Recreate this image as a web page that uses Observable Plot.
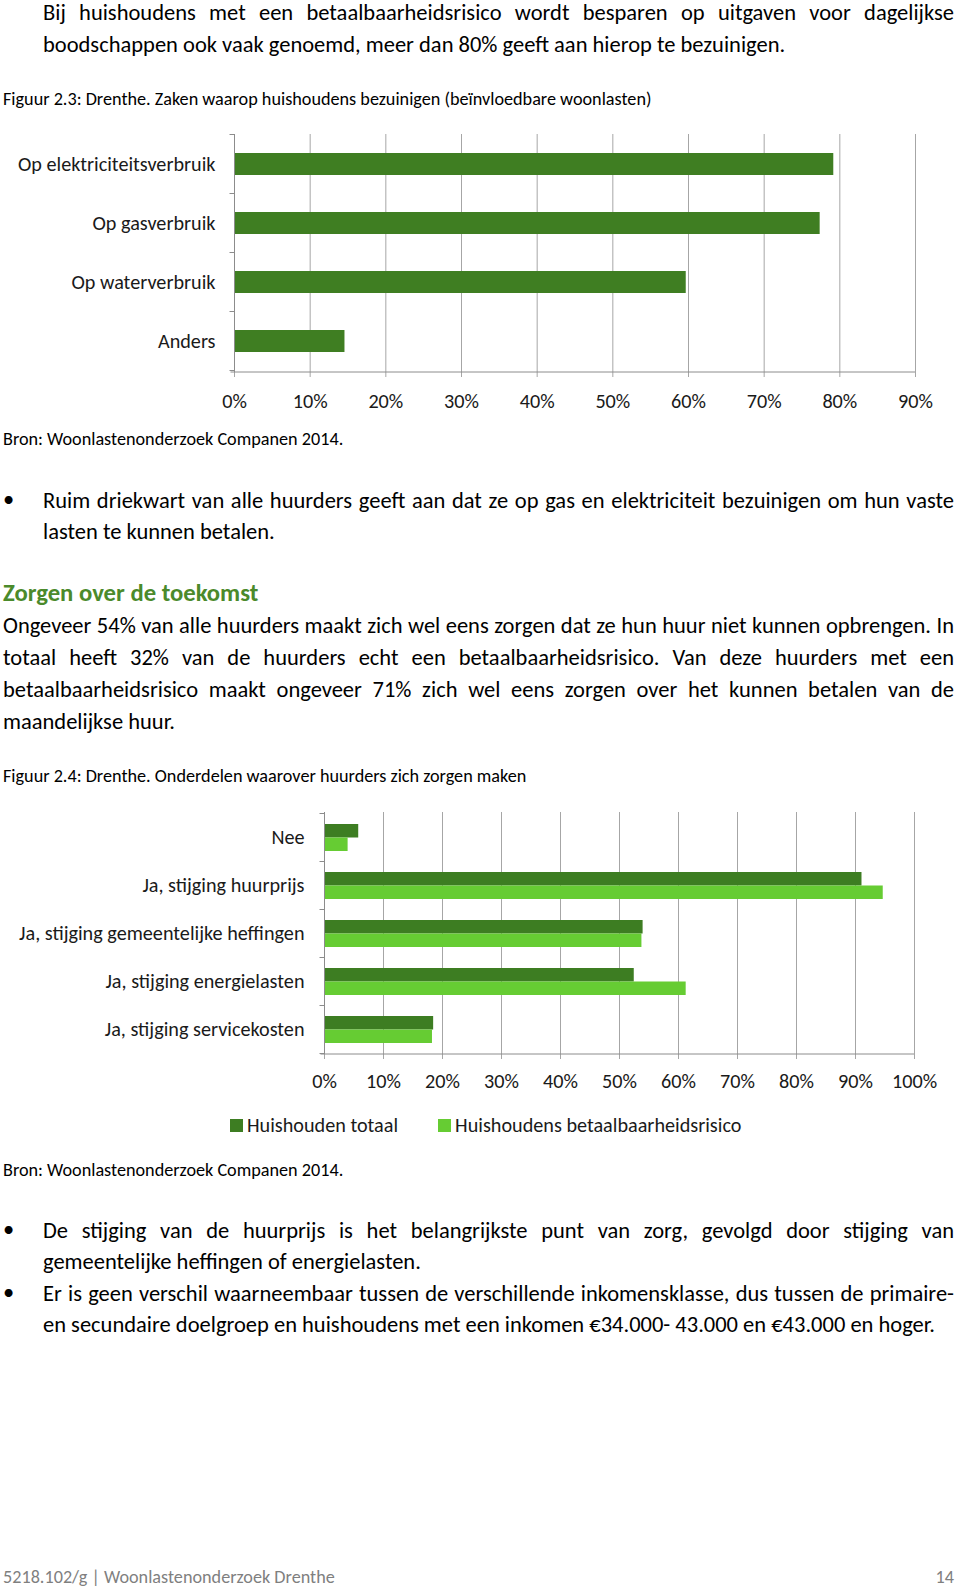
<!DOCTYPE html>
<html><head><meta charset="utf-8">
<script src="https://cdn.jsdelivr.net/npm/d3@7"></script>
<script src="https://cdn.jsdelivr.net/npm/@observablehq/plot@0.6"></script>
<style>
html,body{margin:0;padding:0;background:#fff;}
body{width:960px;height:1590px;position:relative;overflow:hidden;color:#000;font-family:Carlito, Lato, sans-serif;}
.t{position:absolute;white-space:nowrap;}
.chart{position:absolute;left:0;}
</style></head><body>
<script>
// ---------- data ----------
const chart1Categories = ["Op elektriciteitsverbruik", "Op gasverbruik", "Op waterverbruik", "Anders"];
const chart1Values = [79.2, 77.4, 59.7, 14.6];
const chart1Ticks = [0, 10, 20, 30, 40, 50, 60, 70, 80, 90];

const chart2Categories = ["Nee", "Ja, stijging huurprijs", "Ja, stijging gemeentelijke heffingen", "Ja, stijging energielasten", "Ja, stijging servicekosten"];
const chart2Series = ["Huishouden totaal", "Huishoudens betaalbaarheidsrisico"];
const chart2Totaal = [5.8, 91.1, 54.0, 52.5, 18.5];
const chart2Risico = [4.0, 94.7, 53.8, 61.3, 18.3];
const chart2Ticks = [0, 10, 20, 30, 40, 50, 60, 70, 80, 90, 100];

// ---------- style ----------
const FONT = 'Carlito, Lato, sans-serif';
const C1 = "#3f7e22";
const chart2Colors = ["#3d7d22", "#66cc33"];
const GRID = "#a6a6a6", AXIS = "#8c8c8c", LABEL = "#1a1a1a", HEAD = "#4b8a2b", FOOT = "#7f7f7f";
const BODY = 22.5, SMALL = 18.2, CHART = 20.2, HEADING = 24.7;

function line(text, o) {
  const size = o.size;
  const lh = Math.round(size * 1.3);
  const d = document.createElement("div");
  d.className = "t";
  d.textContent = text;
  Object.assign(d.style, {
    fontSize: size + "px", lineHeight: lh + "px",
    top: (o.y - lh / 2 - 0.05 * size + 1.5) + "px",
    color: o.color || "#000", fontWeight: o.weight || "normal"
  });
  if (o.justify) {
    Object.assign(d.style, {left: o.x + "px", width: (o.right - o.x) + "px", whiteSpace: "normal", textAlign: "justify", textAlignLast: "justify"});
  } else if (o.alignRight) {
    d.style.right = (960 - o.x) + "px";
  } else {
    d.style.left = o.x + "px";
  }
  document.body.appendChild(d);
  if (o.justify && d.offsetHeight > lh * 1.3) {
    Object.assign(d.style, {whiteSpace: "nowrap", textAlignLast: "auto", width: "auto"});
    const w = d.scrollWidth;
    d.style.transformOrigin = "0 0";
    d.style.transform = `scaleX(${(o.right - o.x) / w})`;
  }
  return d;
}

// ---------- text ----------
line("Bij huishoudens met een betaalbaarheidsrisico wordt besparen op uitgaven voor dagelijkse", {x: 43, right: 954, y: 12.5, size: BODY, justify: true});
line("boodschappen ook vaak genoemd, meer dan 80% geeft aan hierop te bezuinigen.", {x: 43, y: 44, size: BODY});
line("Figuur 2.3: Drenthe. Zaken waarop huishoudens bezuinigen (beïnvloedbare woonlasten)", {x: 3, y: 98.5, size: SMALL});
line("Bron: Woonlastenonderzoek Companen 2014.", {x: 3, y: 438.5, size: SMALL});
line("•", {x: 3, y: 499, size: BODY});
line("Ruim driekwart van alle huurders geeft aan dat ze op gas en elektriciteit bezuinigen om hun vaste", {x: 43, right: 954, y: 500, size: BODY, justify: true});
line("lasten te kunnen betalen.", {x: 43, y: 531.5, size: BODY});
line("Zorgen over de toekomst", {x: 3, y: 592.5, size: HEADING, weight: "bold", color: HEAD});
line("Ongeveer 54% van alle huurders maakt zich wel eens zorgen dat ze hun huur niet kunnen opbrengen. In", {x: 3, right: 954, y: 625.5, size: BODY, justify: true});
line("totaal heeft 32% van de huurders echt een betaalbaarheidsrisico. Van deze huurders met een", {x: 3, right: 954, y: 657, size: BODY, justify: true});
line("betaalbaarheidsrisico maakt ongeveer 71% zich wel eens zorgen over het kunnen betalen van de", {x: 3, right: 954, y: 689, size: BODY, justify: true});
line("maandelijkse huur.", {x: 3, y: 721, size: BODY});
line("Figuur 2.4: Drenthe. Onderdelen waarover huurders zich zorgen maken", {x: 3, y: 775.5, size: SMALL});
line("Bron: Woonlastenonderzoek Companen 2014.", {x: 3, y: 1169, size: SMALL});
line("•", {x: 3, y: 1229, size: BODY});
line("De stijging van de huurprijs is het belangrijkste punt van zorg, gevolgd door stijging van", {x: 43, right: 954, y: 1230, size: BODY, justify: true});
line("gemeentelijke heffingen of energielasten.", {x: 43, y: 1261.5, size: BODY});
line("•", {x: 3, y: 1292, size: BODY});
line("Er is geen verschil waarneembaar tussen de verschillende inkomensklasse, dus tussen de primaire-", {x: 43, right: 954, y: 1293, size: BODY, justify: true});
line("en secundaire doelgroep en huishoudens met een inkomen €34.000- 43.000 en €43.000 en hoger.", {x: 43, y: 1324.5, size: BODY});
line("5218.102/g | Woonlastenonderzoek Drenthe", {x: 3, y: 1576, size: SMALL, color: FOOT});
line("14", {x: 954, y: 1576, size: SMALL, color: FOOT, alignRight: true});

// ---------- axis frame (category boundary ticks, axis lines) ----------
function categoryFrame(cats) {
  return (index, scales, values, dims) => {
    const y = scales.y;
    const {width, height, marginTop, marginRight, marginBottom, marginLeft} = dims;
    const bw = y.bandwidth(), step = y.step();
    const edges = cats.map(c => y(c) + bw / 2 - step / 2);
    edges.push(y(cats[cats.length - 1]) + bw / 2 + step / 2);
    const g = d3.create("svg:g").attr("stroke", AXIS).attr("stroke-width", 1).attr("fill", "none");
    const x0 = marginLeft + 0.5, yb = height - marginBottom;
    g.append("line").attr("x1", x0).attr("x2", x0).attr("y1", marginTop).attr("y2", yb);
    g.append("line").attr("x1", x0 - 4).attr("x2", width - marginRight).attr("y1", yb).attr("y2", yb);
    g.selectAll("line.edge").data(edges).join("line").attr("class", "edge")
      .attr("x1", x0 - 5).attr("x2", x0).attr("y1", d => d).attr("y2", d => d);
    return g.node();
  };
}

// ---------- chart 1 ----------
const rows1 = chart1Categories.map((c, i) => ({category: c, value: chart1Values[i]}));
const chart1 = Plot.plot({
  width: 960, height: 300,
  marginTop: 14, marginBottom: 48, marginLeft: 234, marginRight: 45,
  style: {fontFamily: FONT, fontSize: CHART + "px", background: "transparent", color: LABEL, overflow: "visible"},
  x: {domain: [0, 90], label: null},
  y: {domain: chart1Categories, paddingInner: 0.62, paddingOuter: 0.31, label: null},
  marks: [
    Plot.ruleX(chart1Ticks, {stroke: GRID}),
    Plot.barX(rows1, {x: "value", y: "category", fill: C1}),
    Plot.axisX({ticks: chart1Ticks, tickSize: 5, tickPadding: 16.5, tickFormat: d => d + "%", stroke: GRID, fill: LABEL, label: null}),
    Plot.axisY({tickSize: 0, tickPadding: 19, fill: LABEL, label: null}),
    categoryFrame(chart1Categories)
  ]
});
const box1 = document.createElement("div");
box1.className = "chart"; box1.style.top = "120px";
box1.appendChild(chart1);
document.body.appendChild(box1);

// ---------- chart 2 ----------
const rows2 = chart2Categories.flatMap((c, i) => [
  {category: c, series: chart2Series[0], value: chart2Totaal[i]},
  {category: c, series: chart2Series[1], value: chart2Risico[i]}
]);
const chart2 = Plot.plot({
  width: 960, height: 310,
  marginTop: 22, marginBottom: 46, marginLeft: 324, marginRight: 46,
  style: {fontFamily: FONT, fontSize: CHART + "px", background: "transparent", color: LABEL, overflow: "visible"},
  x: {domain: [0, 100], label: null},
  y: {domain: chart2Categories, paddingInner: 0.442, paddingOuter: 0.221, label: null},
  color: {domain: chart2Series, range: chart2Colors},
  marks: [
    Plot.ruleX(chart2Ticks, {stroke: GRID}),
    Plot.barX(rows2.filter(d => d.series === chart2Series[0]), {x: "value", y: "category", fill: "series", insetBottom: 13.5}),
    Plot.barX(rows2.filter(d => d.series === chart2Series[1]), {x: "value", y: "category", fill: "series", insetTop: 13.5}),
    Plot.axisX({ticks: chart2Ticks, tickSize: 5, tickPadding: 14, tickFormat: d => d + "%", stroke: GRID, fill: LABEL, label: null}),
    Plot.axisY({tickSize: 0, tickPadding: 20, fill: LABEL, label: null}),
    categoryFrame(chart2Categories)
  ]
});
const box2 = document.createElement("div");
box2.className = "chart"; box2.style.top = "790px";
box2.appendChild(chart2);
document.body.appendChild(box2);

// ---------- legend (chart 2) ----------
const legend = document.createElement("div");
Object.assign(legend.style, {position: "absolute", left: "230px", top: "1112px", display: "flex", gap: "40px", alignItems: "center", fontSize: CHART + "px", lineHeight: "26px", color: LABEL, fontFamily: FONT});
chart2Series.forEach((s, i) => {
  const item = document.createElement("div");
  Object.assign(item.style, {display: "flex", alignItems: "center", gap: "4px"});
  const sw = document.createElement("span");
  Object.assign(sw.style, {display: "inline-block", width: "13px", height: "13px", background: chart2Colors[i]});
  const tx = document.createElement("span");
  tx.textContent = s;
  item.appendChild(sw); item.appendChild(tx);
  legend.appendChild(item);
});
document.body.appendChild(legend);
</script>
</body></html>
